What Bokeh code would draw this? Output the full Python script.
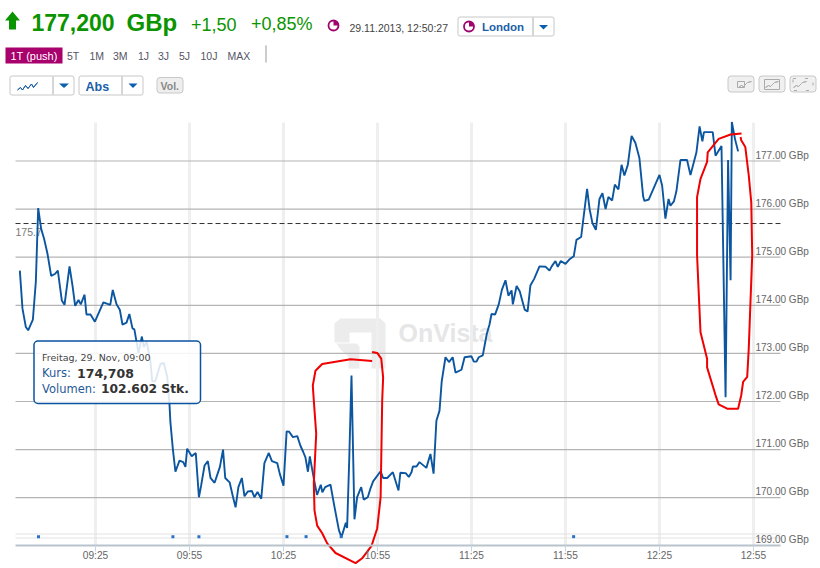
from math import pi
from bokeh.plotting import figure
from bokeh.embed import file_html
from bokeh.resources import INLINE
from bokeh.models import (Range1d, LinearAxis, FixedTicker, PrintfTickFormatter, Label,
                          BoxAnnotation, PolyAnnotation)

# ---------- data ----------
trade_minutes = [0.84,1.69,2.75,3.5,5.0,5.95,6.7,7.65,8.6,9.67,10.84,12.0,12.97,14.24,15.1,16.7,17.65,18.5,19.56,20.3,
 21.5,22.1,23.4,24.8,27.5,29.7,30.5,31.7,32.75,33.6,34.9,35.8,36.8,37.4,38.7,39.8,40.4,41.3,42.5,43.1,44.1,45.7,46.8,47.9,48.6,48.9,
 49.7,50.5,51.8,53,53.7,54.25,55.7,57,58,58.7,59.8,60.85,61.7,63,64.7,65.7,66.4,67.8,68.9,69.7,70.6,71.7,72.55,73.6,74.9,75.7,76.7,77.9,78.9,
 80.3,81.3,83,83.8,85,86,86.8,88,89.4,90.4,91.3,92,92.8,93.4,94.7,95.7,96.9,97.4,98.3,100,101.3,102.7,103.5,104.9,105.3,106,106.7,107.65,
 108.5,109.8,110.6,111.9,112.8,113.6,116,116.8,118.1,119.9,121.7,122.3,124,125,
 125.85,126.3,127.45,128.4,130.6,131.9,132.9,133.8,134.8,135.5,136.7,137.8,139,139.9,141.8,142.8,145,145.75,146.6,147.3,148.6,149.9,150.75,
 151.4,152.55,153.7,154.7,155.85,156.8,157.8,158.2,159.4,160.4,162,162.9,163.8,165,166.7,168.7,169.9,170.6,171.8,172.55,173.5,175,176.2,177.65,
 178.5,180,180.85,181.9,182.7,183.6,184.7,185.85,186.8,187.8,188.7,189.9,190.75,191.9,192.9,193.8,194.9,196.1,197.3,198.6,199.8,200.2,201.6,
 205,205.85,206.9,207.9,208.5,209.6,210.4,211.7,213.8,214.9,216.8,217.8,218.7,219.2,222,222.9,224.8,226.1,226.9,227.7,228.1,229.1,230.1]
trade_prices = [174.72,173.93,173.55,173.48,173.70,174.49,176.02,175.59,175.38,175.07,174.61,174.65,174.72,174.10,174.01,174.81,174.41,173.99,174.11,174.02,
 174.22,173.81,173.81,173.66,174.06,174.01,174.32,174.02,173.91,173.60,173.64,173.82,173.52,173.50,173.01,173.35,173.13,173.25,172.85,172.42,172.42,172.78,172.80,172.51,171.95,171.57,
 171.0,170.54,170.77,170.74,170.64,171.02,170.86,170.93,170.01,170.25,170.67,170.76,170.41,170.31,170.64,171.0,170.41,170.32,170.01,169.8,170.22,170.41,170.03,170.13,170.14,170.01,170.12,169.98,170.72,
 170.93,170.76,170.72,170.5,170.25,171.38,171.37,171.26,171.28,171.08,170.95,170.84,170.54,170.86,170.39,170.06,170.27,170.11,170.22,170.27,169.8,169.32,169.18,169.48,169.37,170.84,172.54,169.55,
 170.01,170.22,169.96,170.01,170.2,170.34,170.55,170.41,170.41,170.53,170.15,170.52,170.51,170.43,
 170.53,170.65,170.65,170.74,170.62,170.91,170.5,171.6,171.81,172.42,172.92,172.82,172.92,172.6,172.66,172.92,172.94,172.83,172.83,172.92,172.96,173.41,173.6,
 173.82,173.81,174.02,174.32,174.52,174.2,174.31,174.02,174.4,174.29,173.91,173.87,174.41,174.55,174.81,174.8,174.72,174.81,174.92,174.8,174.92,174.86,174.95,175.02,
 175.36,175.42,175.87,176.42,176.0,175.71,175.57,176.21,176.33,176.0,176.25,176.18,176.51,176.41,176.92,176.7,176.92,177.52,177.38,177.06,176.26,176.17,176.2,
 176.71,176.49,175.8,176.21,176.07,176.16,176.37,177.02,177.02,176.71,177.18,177.72,177.41,177.6,177.6,177.11,177.31,172.09,177.02,174.52,177.81,177.46,177.2]

volume_minutes = [6.8, 49.7, 58, 86.1, 92.2, 103.4, 177.6]
volume_level = [169.19] * 7

previous_close = 175.7
price_ticks = [169, 170, 171, 172, 173, 174, 175, 176, 177]
grid_prices = [170, 171, 172, 173, 174, 175, 176, 177]
time_ticks = [25, 55, 85, 115, 145, 175, 205, 235]
time_labels = ["09:25", "09:55", "10:25", "10:55", "11:25", "11:55", "12:25", "12:55"]
range_tabs = ["5T", "1M", "3M", "1J", "3J", "5J", "10J", "MAX"]

loop_a_minutes = [113.3,106.4,97.35,95.2,94.35,94.67,95.44,94.67,94.9,95.75,97.35,98.95,101.6,108,110.1,113.1,114.9,116,116.5,116.8,116.2,114.9,113.3]
loop_a_prices = [172.84,172.88,172.78,172.64,172.33,172.02,171.33,170.30,169.73,169.42,169.26,169.05,168.85,168.64,168.74,169.0,169.36,170.01,172.02,172.5,172.89,173.01,173.03]
loop_b_minutes = [230.9,231.1,232.4,233.5,234.3,234.6,233.5,233,231.7,231.1,230.1,226.6,223.9,223.1,220.2,220.2,218.1,217,217,218.1,220.2,220.4,223.9,227.7,231.2]
loop_b_prices = [177.5,177.43,177.29,176.7,176.14,175.04,173.1,172.51,172.41,172.13,171.85,171.85,171.94,172.09,172.71,172.89,173.44,175.04,176.25,176.63,176.98,177.18,177.46,177.55,177.57]

# ---------- page geometry: page pixels to axis values ----------
PX_PER_MIN, PX_AT_0 = 3.133, 16.7
PX_PER_GBP, PX_AT_177 = 48.1, 160.5
def X(px): return (px - PX_AT_0) / PX_PER_MIN
def Y(py): return 177 - (py - PX_AT_177) / PX_PER_GBP

W, H = 820, 568
LEFT, RIGHT = 15, 780
p = figure(width=W, height=H, output_backend="svg", toolbar_location=None,
           x_range=Range1d(X(0), X(W)), y_range=Range1d(Y(H), Y(0)),
           y_axis_location=None, min_border=0)
p.outline_line_color = None
p.grid.visible = False

ax = p.xaxis[0]
ax.fixed_location = 169
ax.bounds = (X(LEFT), X(RIGHT))
ax.ticker = FixedTicker(ticks=time_ticks)
ax.major_label_overrides = dict(zip(time_ticks, time_labels))
ax.axis_line_color = "#b9c3ce"
ax.axis_line_width = 2
ax.major_tick_line_color = "#c6d6ea"
ax.major_tick_in = 0
ax.major_tick_out = 6
ax.minor_tick_line_color = None
ax.major_label_text_font = "Liberation Sans"
ax.major_label_text_font_size = "10.2px"
ax.major_label_text_color = "#666666"
ax.major_label_standoff = -2

SHIFT = 6 / PX_PER_GBP
p.extra_y_ranges = {"labels": Range1d(Y(H) - SHIFT, Y(0) - SHIFT)}
ay = LinearAxis(y_range_name="labels", ticker=FixedTicker(ticks=price_ticks), fixed_location=X(755),
                formatter=PrintfTickFormatter(format="%.2f GBp"))
ay.axis_line_color = None
ay.major_tick_line_color = None
ay.minor_tick_line_color = None
ay.major_tick_in = 0
ay.major_tick_out = 0
ay.major_label_standoff = 0
ay.major_label_text_font = "Liberation Sans"
ay.major_label_text_font_size = "10px"
ay.major_label_text_color = "#666666"
p.add_layout(ay, "right")

# helpers for page furniture: y is the middle of the text
def text(s, x, y, size, color, bold=False, font="Liberation Sans", level="annotation"):
    p.add_layout(Label(x=X(x), y=Y(y), text=s, text_font=font, text_font_size=f"{size}px", text_color=color,
                       text_font_style="bold" if bold else "normal", text_baseline="middle", level=level))
def box(x0, y0, x1, y1, fill="#ffffff", line="#c8c8c8", radius=2, width=1, dash="solid", alpha=1.0, level="annotation"):
    p.add_layout(BoxAnnotation(left=X(x0), right=X(x1), top=Y(y0), bottom=Y(y1), fill_color=fill, fill_alpha=alpha,
                               line_color=line, line_width=width, line_dash=dash, border_radius=radius, level=level,
                               line_alpha=1.0 if line else 0))
def poly(pts, fill=None, line=None, width=1, level="annotation"):
    p.add_layout(PolyAnnotation(xs=[X(a) for a, _ in pts], ys=[Y(b) for _, b in pts], fill_color=fill,
                                fill_alpha=1 if fill else 0, line_color=line, line_width=width,
                                line_alpha=1 if line else 0, level=level))
def squiggle(pts, color, width=1):
    poly(pts + pts[::-1], None, color, width)
def caret(x0, x1, y0, y1):
    poly([(x0, y0), (x1, y0), ((x0 + x1) / 2, y1)], "#0a5fb0", None)
def vline(x, y0, y1, color="#c8c8c8"):
    squiggle([(x, y0), (x, y1)], color)
def pie(x, y, size):
    p.scatter([X(x)], [Y(y)], marker="circle", size=size, fill_color="#ffffff", line_color="#a0046e",
              line_width=1.8, level="overlay")
    p.wedge([X(x)], [Y(y)], radius=size / 2, radius_units="screen", start_angle=0, end_angle=pi / 2,
            fill_color="#a0046e", line_color=None, level="overlay")

# grid lines
p.segment(x0=time_ticks, x1=time_ticks, y0=[169] * len(time_ticks), y1=[Y(122)] * len(time_ticks),
          line_color="#efefef", line_width=3, level="underlay")
p.segment(x0=[X(LEFT)] * len(grid_prices), x1=[X(RIGHT)] * len(grid_prices), y0=grid_prices, y1=grid_prices,
          line_color="#b4b4b4", line_width=1.2, level="underlay")

# watermark
WM = "#ececec"
poly([(340,318),(380,318),(385,323),(385,368),(371,368),(371,332),(349,332),(349,342),(334,342),(334,323)], WM, None, level="image")
poly([(336,343),(356,343),(359,346),(359,368),(348,368),(348,356),(340,349)], WM, None, level="image")
text("OnVista", 398, 332, 25, "#e6e6e6", True, level="image")

# series and reference line
p.line([X(LEFT), X(RIGHT)], [previous_close, previous_close], line_color="#333333", line_width=1, line_dash=[5, 3])
for py in (533.5, 537.5):
    p.line([X(LEFT), X(RIGHT)], [Y(py), Y(py)], line_color="#e2e2e2", line_width=1)
text("175.7", 15, 231, 10.5, "#777777", level="underlay")
p.line(trade_minutes, trade_prices, line_color="#0c56a0", line_width=1.9)
p.scatter(volume_minutes, volume_level, marker="square", size=3, color="#2a72c8", line_color=None)

# hand drawn loops
p.line(loop_a_minutes, loop_a_prices, line_color="#f00000", line_width=2)
p.line(loop_b_minutes, loop_b_prices, line_color="#f00000", line_width=2)

# tooltip
box(33.5, 340.5, 200, 403, "#ffffff", "#0a52a0", 4, 1.5, alpha=0.86, level="overlay")
text("Freitag, 29. Nov, 09:00", 41.5, 357, 9.5, "#444444", font="DejaVu Sans", level="overlay")
text("Kurs:", 41.5, 372.5, 11.5, "#1f5a99", font="DejaVu Sans", level="overlay")
text("174,708", 76.5, 372.5, 12.5, "#333333", True, font="DejaVu Sans", level="overlay")
text("Volumen:", 41.5, 388.5, 11.5, "#1f5a99", font="DejaVu Sans", level="overlay")
text("102.602 Stk.", 100.5, 388.5, 12.3, "#333333", True, font="DejaVu Sans", level="overlay")

# header
GREEN = "#0a9400"
poly([(12,11),(19.5,20),(15.5,20),(15.5,29),(8.5,29),(8.5,20),(4.5,20)], GREEN, None)
text("177,200", 31, 21.5, 23, GREEN, True)
text("GBp", 126, 21.5, 24, GREEN, True)
text("+1,50", 190.5, 23.5, 18, GREEN)
text("+0,85%", 250.5, 23.5, 18, GREEN)
pie(333, 25, 10)
text("29.11.2013, 12:50:27", 349, 27, 10.5, "#444444")
box(457.5, 16.5, 553.5, 35.5)
vline(532.5, 17, 35)
pie(468.5, 26, 10)
text("London", 481.5, 26, 11.5, "#1a5fa8", True)
caret(538.5, 547.5, 24.5, 29)

box(5, 47, 62, 63, "#a8006c", None, 0)
text("1T (push)", 10, 55, 11, "#ffffff")
for label, px in zip(range_tabs, [66.5, 89, 112.5, 137.5, 157.5, 178.5, 200, 227]):
    text(label, px, 55, 10.5, "#555566")
vline(265.5, 45, 62, "#bbbbbb")

box(9.5, 75.5, 73.5, 94.5)
vline(52.5, 76, 94)
squiggle([(17,89.5),(20,87),(22,89.5),(25,85),(27.5,88),(31,83.5),(33,87),(37,82)], "#1a5fa8")
caret(58.5, 68.5, 83, 87.5)
box(78.5, 75.5, 142.5, 94.5)
vline(121.5, 76, 94)
text("Abs", 85, 86.5, 12.5, "#1a5fa8", True)
caret(128, 137, 83, 87.5)
box(156.5, 77, 182.5, 92.5, "#eeeeee", "#c8c8c8", 3)
text("Vol.", 160, 85, 10.5, "#888888", True)

for x0 in (727.5, 758.5, 789.5):
    box(x0, 75.5, x0 + 26, 91.5, "#f0f0f0", "#c8c8c8", 3)
box(737, 81, 744, 87, "#f0f0f0", "#aaaaaa", 0)
box(764, 79, 779, 89, "#f0f0f0", "#aaaaaa", 0)
box(792.5, 78, 812.5, 90, "#f0f0f0", "#aaaaaa", 0, dash=[3, 9])
for x0 in (738, 765, 793):
    squiggle([(x0, 87), (x0 + 3, 85), (x0 + 5, 86), (x0 + 9, 82), (x0 + 13, 81)], "#b0b0b0")

open("out.html", "w").write(file_html(p, INLINE))
